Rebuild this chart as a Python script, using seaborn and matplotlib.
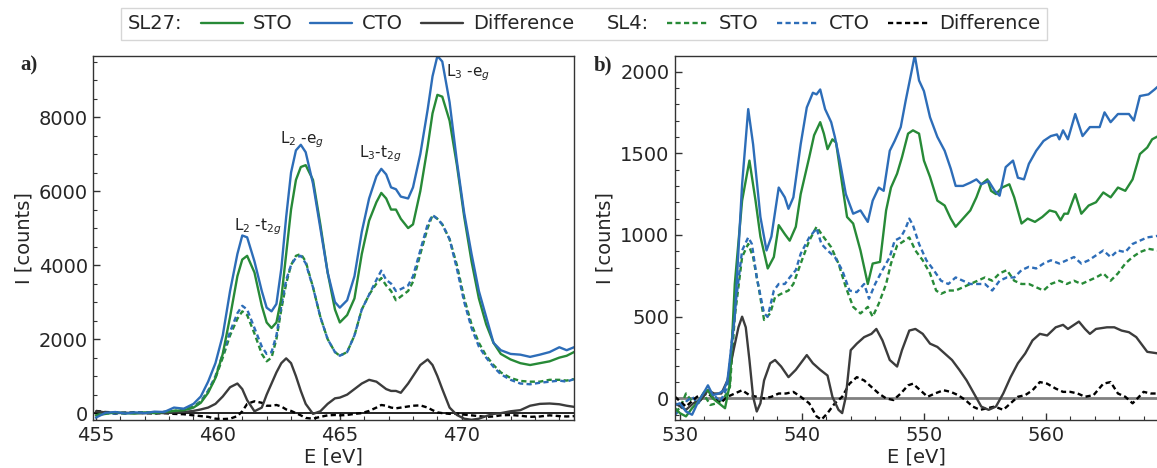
import numpy as np
import pandas as pd
import matplotlib
matplotlib.use("Agg")
import matplotlib.pyplot as plt
import seaborn as sns
from matplotlib.lines import Line2D
from matplotlib.ticker import AutoMinorLocator, MultipleLocator

# ---------------- data: panel a (Ti L-edge) ----------------
E_a = [455.0, 455.4, 455.8, 456.2, 456.6, 457.0, 457.4, 457.8, 458.2, 458.6,
       459.0, 459.3, 459.6, 459.9, 460.2, 460.5, 460.8, 461.0, 461.2, 461.5,
       461.8, 462.0, 462.2, 462.4, 462.6, 462.8, 463.0, 463.2, 463.4, 463.6,
       463.9, 464.2, 464.5, 464.8, 465.0, 465.3, 465.6, 465.9, 466.2, 466.5,
       466.7, 466.9, 467.1, 467.3, 467.5, 467.8, 468.0, 468.3, 468.6, 468.8,
       469.0, 469.2, 469.5, 469.8, 470.1, 470.4, 470.7, 471.0, 471.3, 471.6,
       472.0, 472.4, 472.8, 473.2, 473.6, 474.0, 474.3, 474.6]

sl27_cto_a = [-120, 10, 30, -10, 20, 0, 40, 30, 150, 120,
              250, 450, 850, 1350, 2100, 3300, 4300, 4800, 4750, 4100,
              3300, 2850, 2750, 2950, 3900, 5300, 6500, 7100, 7250, 7050,
              6200, 5000, 3800, 3000, 2850, 3050, 3700, 4900, 5800, 6400,
              6600, 6450, 6100, 6050, 5850, 5800, 6100, 7000, 8200, 9100,
              9650, 9500, 8400, 6800, 5400, 4300, 3300, 2600, 1900, 1700,
              1600, 1580, 1520, 1580, 1650, 1780, 1700, 1780]
sl27_sto_a = [-60, -20, 20, 0, -10, 20, 0, 30, 60, 80,
              150, 280, 550, 950, 1600, 2600, 3700, 4150, 4250, 3800,
              2900, 2450, 2300, 2450, 3100, 4300, 5500, 6300, 6650, 6700,
              6300, 5100, 3800, 2800, 2450, 2650, 3100, 4300, 5200, 5700,
              5950, 5800, 5500, 5500, 5250, 5000, 5100, 6000, 7200, 8100,
              8600, 8550, 7900, 6700, 5300, 4100, 3100, 2400, 1900, 1600,
              1450, 1350, 1300, 1350, 1400, 1500, 1550, 1650]
sl27_diff_a = [50, 20, 0, 10, 0, 0, 10, 0, 20, 30,
               60, 100, 150, 250, 450, 700, 800, 650, 350, 50,
               150, 500, 800, 1100, 1350, 1480, 1350, 1000, 600, 250,
               -20, 50, 250, 400, 420, 500, 650, 800, 900, 850,
               750, 650, 600, 600, 550, 800, 1000, 1300, 1450, 1300,
               1000, 650, 150, -50, -150, -180, -150, -80, -20, 0,
               50, 80, 200, 250, 260, 240, 200, 170]
sl4_cto_a = [-80, 0, -20, 20, 0, 30, -10, 40, 50, 80,
             150, 300, 600, 1000, 1600, 2200, 2700, 2900, 2800, 2300,
             1800, 1600, 1650, 2100, 2900, 3600, 4000, 4200, 4250, 4050,
             3400, 2600, 2000, 1650, 1550, 1650, 2100, 2800, 3200, 3600,
             3850, 3600, 3500, 3300, 3350, 3450, 3700, 4400, 5100, 5350,
             5250, 5100, 4700, 3900, 3000, 2300, 1800, 1500, 1250, 1050,
             900, 800, 780, 820, 850, 880, 850, 920]
sl4_sto_a = [-60, 20, 0, -10, 30, 0, 20, 10, 60, 100,
             180, 320, 600, 950, 1500, 2100, 2550, 2750, 2650, 2150,
             1600, 1400, 1500, 2000, 2800, 3500, 4000, 4250, 4300, 4100,
             3400, 2600, 2000, 1650, 1550, 1650, 2100, 2800, 3200, 3500,
             3650, 3450, 3300, 3050, 3150, 3300, 3550, 4300, 5000, 5350,
             5250, 5100, 4700, 4000, 3100, 2400, 1900, 1550, 1300, 1100,
             950, 870, 850, 850, 900, 900, 880, 920]
sl4_diff_a = [60, 30, 20, 0, 10, 0, -10, 0, -20, -30,
              -60, -80, -100, -150, -160, -150, -80, 50, 250, 320,
              280, 200, 200, 220, 180, 100, 60, 0, -60, -130,
              -150, -100, -60, -50, -60, -50, -20, 0, 60, 150,
              220, 200, 150, 130, 150, 180, 200, 210, 150, 80,
              20, 0, -20, -10, -40, -60, -80, -100, -90, -60,
              -50, -70, -100, -90, -60, -80, -90, -80]

# ---------------- data: panel b (O K-edge) ----------------
E_b_sl27_cto = [529.6, 530.0, 530.5, 531.0, 531.5, 532.0, 532.3, 532.7, 533.2, 533.6,
                533.9, 534.5, 535.1, 535.6, 536.0, 536.6, 537.1, 537.5, 538.1, 538.6,
                538.9, 539.3, 539.9, 540.4, 540.9, 541.2, 541.5, 541.9, 542.4, 542.7,
                543.1, 543.6, 544.2, 544.8, 545.4, 545.8, 546.3, 546.7, 547.2, 547.6,
                548.1, 548.5, 549.0, 549.25, 549.6, 550.0, 550.5, 551.1, 551.7, 552.2,
                552.6, 553.2, 553.8, 554.3, 554.7, 555.3, 555.8, 556.2, 556.7, 557.3,
                557.7, 558.2, 558.6, 559.2, 559.8, 560.4, 560.9, 561.1, 561.4, 561.8,
                562.4, 563.0, 563.6, 564.4, 564.8, 565.3, 565.9, 566.8, 567.2, 567.7,
                568.4, 568.9, 569.2]
sl27_cto_b = [-40, -30, -80, -100, -20, 40, 80, 20, 30, 50,
              110, 500, 1310, 1770, 1555, 1110, 905, 990, 1290, 1230,
              1160, 1230, 1555, 1780, 1870, 1860, 1890, 1770, 1690, 1600,
              1455, 1250, 1130, 1150, 1080, 1210, 1290, 1270, 1515, 1575,
              1660, 1820, 2005, 2100, 1945, 1880, 1720, 1600, 1515, 1405,
              1300, 1300, 1320, 1340, 1310, 1330, 1270, 1240, 1415, 1455,
              1350, 1340, 1435, 1515, 1575, 1605, 1615, 1585, 1640, 1585,
              1740, 1605, 1660, 1660, 1750, 1690, 1740, 1740, 1700, 1850,
              1860, 1890, 1910]

E_b_sl27_sto = [529.6, 530.0, 530.5, 531.0, 531.5, 532.0, 532.3, 532.7, 533.2, 533.7,
                534.1, 534.5, 535.1, 535.7, 536.2, 536.6, 537.2, 537.7, 538.1, 538.6,
                539.0, 539.5, 539.9, 540.6, 541.0, 541.5, 541.8, 542.1, 542.5, 542.8,
                543.3, 543.7, 544.2, 544.8, 545.4, 545.8, 546.4, 546.9, 547.3, 547.8,
                548.2, 548.7, 549.1, 549.6, 550.0, 550.5, 551.1, 551.7, 552.2, 552.6,
                553.2, 553.8, 554.3, 554.7, 555.2, 555.5, 555.9, 556.4, 557.0, 557.4,
                558.0, 558.5, 559.1, 559.7, 560.3, 560.8, 561.2, 561.5, 561.8, 562.4,
                562.9, 563.5, 564.1, 564.7, 565.3, 565.9, 566.5, 567.1, 567.7, 568.3,
                568.7, 569.2]
sl27_sto_b = [-60, -90, -110, -60, -20, 40, 50, 0, -30, -60,
              90, 700, 1210, 1455, 1210, 990, 795, 865, 1060, 1005,
              965, 1050, 1250, 1475, 1610, 1690, 1620, 1525, 1585, 1565,
              1310, 1110, 1070, 905, 700, 825, 835, 1150, 1290, 1375,
              1475, 1620, 1640, 1620, 1455, 1355, 1210, 1180, 1100, 1050,
              1100, 1150, 1230, 1310, 1340, 1270, 1250, 1290, 1310, 1230,
              1070, 1100, 1080, 1110, 1150, 1140, 1090, 1130, 1130, 1250,
              1130, 1180, 1200, 1260, 1230, 1290, 1270, 1340, 1495, 1535,
              1585, 1605]

E_b_sl4_cto = [529.6, 530.0, 530.5, 531.0, 531.5, 532.3, 532.8, 533.3, 533.9, 534.5,
               535.1, 535.6, 535.9, 536.3, 536.9, 537.2, 537.7, 538.1, 538.6, 539.0,
               539.5, 539.9, 540.6, 541.2, 541.6, 542.1, 542.7, 543.3, 543.9, 544.5,
               545.1, 545.5, 546.0, 546.6, 547.2, 547.6, 548.1, 548.5, 548.8, 549.1,
               549.6, 550.2, 550.8, 551.4, 552.0, 552.6, 553.2, 553.8, 554.4, 555.0,
               555.6, 556.2, 556.8, 557.4, 558.0, 558.6, 559.2, 559.8, 560.4, 561.1,
               561.7, 562.3, 562.9, 563.5, 564.1, 564.7, 565.3, 565.9, 566.5, 567.1,
               567.7, 568.3, 569.2]
sl4_cto_b = [-100, -70, -20, 10, -30, 50, 20, -20, 70, 540,
             905, 985, 945, 740, 520, 500, 660, 700, 700, 740,
             785, 885, 985, 1040, 945, 905, 865, 785, 660, 650,
             700, 610, 700, 785, 865, 965, 985, 1040, 1100, 1060,
             945, 845, 785, 720, 700, 740, 720, 700, 700, 700,
             660, 720, 740, 740, 785, 805, 795, 825, 845, 825,
             845, 865, 825, 845, 875, 905, 865, 905, 895, 945,
             965, 985, 995]

E_b_sl4_sto = [529.6, 530.0, 530.5, 531.0, 531.5, 532.0, 532.5, 533.0, 533.6, 534.1,
               534.5, 535.1, 535.6, 536.0, 536.5, 536.9, 537.4, 537.8, 538.3, 538.9,
               539.3, 539.9, 540.6, 541.2, 541.8, 542.4, 543.0, 543.6, 544.2, 544.8,
               545.4, 545.8, 546.3, 546.9, 547.3, 547.8, 548.4, 548.8, 549.3, 549.9,
               550.5, 551.0, 551.4, 552.0, 552.6, 553.2, 553.8, 554.4, 555.0, 555.6,
               556.2, 556.8, 557.4, 558.0, 558.6, 559.2, 559.8, 560.4, 561.1, 561.7,
               562.3, 562.9, 563.5, 564.1, 564.7, 565.3, 565.9, 566.5, 567.1, 567.7,
               568.4, 569.2]
sl4_sto_b = [-80, -60, 30, -20, -30, 20, -40, -30, 0, 70,
             500, 865, 945, 865, 660, 480, 520, 620, 640, 660,
             700, 825, 965, 1050, 985, 925, 825, 680, 560, 520,
             560, 500, 580, 700, 825, 935, 965, 985, 905, 845,
             765, 660, 640, 660, 660, 680, 700, 720, 740, 720,
             765, 785, 720, 700, 700, 680, 660, 700, 720, 700,
             720, 700, 720, 740, 765, 720, 765, 825, 865, 895,
             915, 905]

E_b_sl27_diff = [529.6, 530.5, 531.1, 531.7, 532.3, 532.8, 533.4, 533.9, 534.4, 534.8,
                 535.1, 535.4, 535.7, 536.0, 536.3, 536.6, 536.9, 537.4, 537.8, 538.3,
                 538.9, 539.5, 540.1, 540.4, 540.9, 541.5, 542.1, 542.5, 543.0, 543.3,
                 543.6, 544.0, 544.5, 545.1, 545.7, 546.1, 546.6, 547.2, 547.8, 548.2,
                 548.8, 549.3, 549.9, 550.5, 551.1, 551.7, 552.3, 552.9, 553.5, 554.1,
                 554.7, 555.3, 555.9, 556.5, 557.1, 557.7, 558.3, 558.9, 559.5, 560.1,
                 560.8, 561.4, 561.8, 562.3, 562.7, 563.2, 563.6, 564.1, 565.0, 565.6,
                 566.2, 566.8, 567.4, 567.8, 568.3, 569.2]
sl27_diff_b = [-30, -70, -30, -10, 50, 30, 30, 110, 295, 435,
               500, 435, 235, 10, -80, -30, 110, 215, 235, 195,
               130, 175, 235, 265, 215, 175, 140, 10, -70, -90,
               10, 295, 335, 375, 395, 425, 355, 235, 195, 295,
               415, 425, 395, 335, 315, 275, 235, 175, 110, 30,
               -50, -70, -50, 30, 130, 215, 275, 355, 395, 385,
               435, 450, 425, 450, 470, 425, 395, 425, 435, 435,
               415, 405, 375, 335, 285, 275]

E_b_sl4_diff = [529.6, 530.5, 531.4, 532.3, 533.3, 533.9, 534.5, 535.1, 535.7, 536.3,
                536.9, 537.5, 538.1, 538.7, 539.3, 539.9, 540.6, 541.2, 541.6, 542.1,
                542.7, 543.3, 543.9, 544.5, 545.1, 545.7, 546.3, 546.9, 547.5, 548.1,
                548.7, 549.1, 549.7, 550.3, 550.9, 551.6, 552.2, 552.8, 553.4, 554.0,
                554.6, 555.2, 555.8, 556.5, 557.1, 557.7, 558.3, 558.9, 559.5, 560.1,
                560.8, 561.4, 562.0, 562.6, 563.2, 563.9, 564.7, 565.3, 565.9, 566.5,
                567.1, 567.5, 568.0, 568.6, 569.2]
sl4_diff_b = [10, -50, 10, 30, -30, 10, 30, 50, 20, 10,
              0, 10, 30, 30, 40, 10, -30, -110, -130, -90,
              -30, 10, 90, 130, 110, 70, 30, 0, -10, 30,
              80, 90, 50, 10, 30, 50, 40, 20, -10, -50,
              -70, -60, -50, -70, -30, 10, 20, 50, 100, 90,
              60, 40, 40, 30, 10, 20, 90, 100, 30, 10,
              -30, 0, 40, 30, 30]

peak_labels = [r"L$_2$ -t$_{2g}$", r"L$_2$ -e$_g$", r"L$_3$-t$_{2g}$", r"L$_3$ -e$_g$"]
peak_pos = [(460.65, 5050), (462.55, 7400), (465.8, 7000), (469.35, 9200)]

legend_labels = ["SL27:", "STO", "CTO", "Difference", "SL4:", "STO", "CTO", "Difference"]

# ---------------- style ----------------
GREEN = "#278a37"
BLUE = "#2d6db8"
DGRAY = "#3c3c3c"
DASH = (0, (2.2, 1.4))

sns.set_style("ticks")
plt.rcParams['font.family'] = ['DejaVu Sans']

fig = plt.figure(figsize=(11.57, 4.68), dpi=100)
ax_a = fig.add_axes([0.0808, 0.1026, 0.4153, 0.7778])
ax_b = fig.add_axes([0.5834, 0.1026, 0.4166, 0.7778])


def draw(ax, x, y, color, dashed=False):
    df = pd.DataFrame({"E": x, "I": y})
    kw = dict(linestyle=DASH) if dashed else {}
    sns.lineplot(data=df, x="E", y="I", ax=ax, color=color, lw=1.7,
                 estimator=None, sort=False, **kw)


# panel a
ax_a.axhline(0, color="black", lw=1.2, zorder=1)
draw(ax_a, E_a, sl4_sto_a, GREEN, True)
draw(ax_a, E_a, sl4_cto_a, BLUE, True)
draw(ax_a, E_a, sl4_diff_a, "black", True)
draw(ax_a, E_a, sl27_diff_a, DGRAY)
draw(ax_a, E_a, sl27_sto_a, GREEN)
draw(ax_a, E_a, sl27_cto_a, BLUE)

# panel b
ax_b.axhline(0, color="#808080", lw=2.0, zorder=1)
draw(ax_b, E_b_sl4_sto, sl4_sto_b, GREEN, True)
draw(ax_b, E_b_sl4_cto, sl4_cto_b, BLUE, True)
draw(ax_b, E_b_sl4_diff, sl4_diff_b, "black", True)
draw(ax_b, E_b_sl27_diff, sl27_diff_b, DGRAY)
draw(ax_b, E_b_sl27_sto, sl27_sto_b, GREEN)
draw(ax_b, E_b_sl27_cto, sl27_cto_b, BLUE)

for t, (x, y) in zip(peak_labels, peak_pos):
    ax_a.text(x, y, t, fontsize=11, ha="left", va="center", color="#222222")

ax_a.set_xlim(454.9, 474.6)
ax_a.set_ylim(-185, 9650)
ax_a.xaxis.set_major_locator(MultipleLocator(5))
ax_a.yaxis.set_major_locator(MultipleLocator(2000))
ax_a.yaxis.set_minor_locator(AutoMinorLocator(4))

ax_b.set_xlim(529.6, 569.1)
ax_b.set_ylim(-132, 2095)
ax_b.xaxis.set_major_locator(MultipleLocator(10))
ax_b.yaxis.set_major_locator(MultipleLocator(500))
ax_b.yaxis.set_minor_locator(AutoMinorLocator(5))
ax_b.spines["right"].set_visible(False)

for ax in (ax_a, ax_b):
    ax.xaxis.set_minor_locator(AutoMinorLocator(5))
    ax.tick_params(which="major", direction="in", length=5, width=1,
                   labelsize=14, color="#333333", pad=4)
    ax.tick_params(which="minor", direction="in", length=3, width=0.8,
                   color="#333333")
    ax.set_xlabel("E [eV]", fontsize=14, labelpad=2)
    ax.set_ylabel("I [counts]", fontsize=14, labelpad=4)
    for s in ax.spines.values():
        s.set_color("#333333")
        s.set_linewidth(1.0)

fig.text(0.018, 0.86, "a)", fontsize=15, fontweight="bold",
         family="Liberation Serif", va="center")
fig.text(0.513, 0.86, "b)", fontsize=15, fontweight="bold",
         family="Liberation Serif", va="center")

# legend
blank = Line2D([], [], color="none")
handles = [blank,
           Line2D([], [], color=GREEN, lw=1.7),
           Line2D([], [], color=BLUE, lw=1.7),
           Line2D([], [], color=DGRAY, lw=1.7),
           blank,
           Line2D([], [], color=GREEN, lw=1.7, linestyle=DASH),
           Line2D([], [], color=BLUE, lw=1.7, linestyle=DASH),
           Line2D([], [], color="black", lw=1.7, linestyle=DASH)]
leg = fig.legend(handles, legend_labels, ncol=8, loc="center right",
                 bbox_to_anchor=(0.9136, 0.949), fontsize=14, frameon=True,
                 fancybox=False, edgecolor="#cccccc", handlelength=2.15,
                 handletextpad=0.5, columnspacing=0.95, borderpad=0.35)
try:
    for col in leg._legend_handle_box.get_children():
        for item in col.get_children():
            kids = item.get_children()
            if len(kids) == 2:
                txt = kids[1].get_text()
                if txt == "SL27:":
                    kids[0].width = 0
                    item.sep = 0
                elif txt == "SL4:":
                    kids[0].width = 10
                    item.sep = 0
except Exception:
    pass

fig.savefig("out.png", dpi=100)
